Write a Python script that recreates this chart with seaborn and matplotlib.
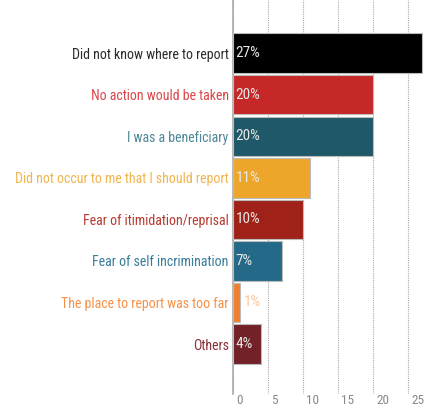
import pandas as pd
import matplotlib.pyplot as plt
import matplotlib.transforms as mtrans
import seaborn as sns
from matplotlib import font_manager

reasons = [
    'Did not know where to report',
    'No action would be taken',
    'I was a beneficiary',
    'Did not occur to me that I should report',
    'Fear of itimidation/reprisal',
    'Fear of self incrimination',
    'The place to report was too far',
    'Others',
]
percent = [27, 20, 20, 11, 10, 7, 1, 4]
bar_colors = ['#000000', '#c62828', '#1f5868', '#eea62a',
              '#a02117', '#246a88', '#f08030', '#732128']
label_colors = ['#2a2a2a', '#d9464a', '#4e8796', '#f2b44e',
                '#b63a30', '#3a7b99', '#f5924a', '#8a3038']
xticks = [0, 5, 10, 15, 20, 25]

names = {f.name for f in font_manager.fontManager.ttflist}
main_font = 'DejaVu Sans'
for cand in ['Roboto Condensed', 'Open Sans Condensed', 'Liberation Sans Narrow',
             'Noto Sans Condensed', 'Lato', 'Roboto']:
    if cand in names:
        main_font = cand
        break

sns.set_style('white')
plt.rcParams['font.family'] = [main_font, 'DejaVu Sans']

df = pd.DataFrame({'reason': reasons, 'percent': percent})

fig = plt.figure(figsize=(4.36, 4.12), dpi=100)
ax = fig.add_axes([0.534, 0.044, 0.441, 0.956])

sns.barplot(data=df, x='percent', y='reason', hue='reason',
            palette=dict(zip(reasons, bar_colors)), legend=False, saturation=1,
            width=0.95, edgecolor='#bbbbbb', linewidth=0.8, ax=ax, zorder=3)

ax.set_xlim(0, 27.4)
ax.set_ylim(8.2, -1.28)
ax.set_xticks(xticks)
ax.set_xticklabels([str(t) for t in xticks], ha='left', color='#888888', fontsize=9.5)
ax.tick_params(axis='x', length=0, pad=0)
offset = mtrans.ScaledTranslation(3 / 100, 0, fig.dpi_scale_trans)
for lab in ax.get_xticklabels():
    lab.set_transform(lab.get_transform() + offset)

ax.set_yticks(range(len(reasons)))
ax.set_yticklabels(reasons, fontsize=10)
for lab, c in zip(ax.get_yticklabels(), label_colors):
    lab.set_color(c)
ax.tick_params(axis='y', length=0, pad=3)

# shrink the category labels so the longest one is as wide as in the reference
renderer = fig.canvas.get_renderer()
widest = max(lab.get_window_extent(renderer).width for lab in ax.get_yticklabels())
size = 10 * 213 / widest
for lab in ax.get_yticklabels():
    lab.set_fontsize(size)

ax.xaxis.grid(True, linestyle=(0, (1, 1)), color='#aaaaaa', linewidth=0.8, zorder=0)
ax.yaxis.grid(False)
for s in ['top', 'right', 'bottom']:
    ax.spines[s].set_visible(False)
ax.spines['left'].set_color('#aaaaaa')
ax.spines['left'].set_linewidth(1.2)
ax.set_xlabel('')
ax.set_ylabel('')

for i, v in enumerate(percent):
    x = v + 0.6 if v < 2 else 0.35
    ax.text(x, i, f'{v}%', va='center', ha='left', fontsize=size + 1,
            color='#e6e6e6' if v >= 2 else '#f8c8a0', zorder=4)

fig.savefig('out.png', dpi=100)
